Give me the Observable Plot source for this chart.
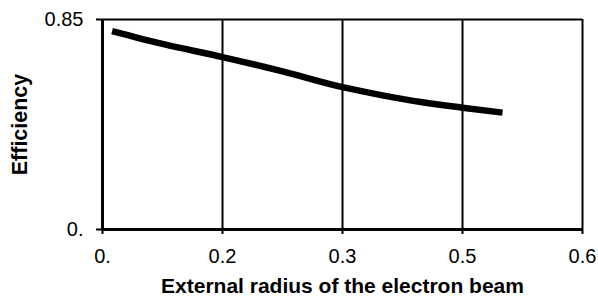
<!DOCTYPE html>
<html>
<head>
<meta charset="utf-8">
<script src="https://cdn.jsdelivr.net/npm/d3@7"></script>
<script src="https://cdn.jsdelivr.net/npm/@observablehq/plot@0.6"></script>
<style>
  html, body { margin: 0; padding: 0; background: #fff; }
</style>
</head>
<body>
<div id="chart"></div>
<script>
const xTicks = [0, 0.15, 0.3, 0.45, 0.6];
const xTickLabels = ["0.", "0.2", "0.3", "0.5", "0.6"];
const yTicks = [0, 0.85];
const yTickLabels = ["0.", "0.85"];
const radius = [0.012, 0.075, 0.15, 0.225, 0.30, 0.35, 0.40, 0.45, 0.50];
const efficiency = [0.803, 0.751, 0.698, 0.640, 0.576, 0.543, 0.515, 0.493, 0.473];
const xLabel = "External radius of the electron beam";
const yLabel = "Efficiency";

const data = radius.map((r, i) => ({r, e: efficiency[i]}));

const chart = Plot.plot({
  width: 598,
  height: 296,
  marginLeft: 102,
  marginRight: 16,
  marginTop: 19,
  marginBottom: 67,
  style: {fontFamily: "'Liberation Sans', Arial, sans-serif", fontSize: "20px", color: "#000", background: "#fff"},
  x: {domain: [0, 0.6]},
  y: {domain: [0, 0.85]},
  marks: [
    Plot.gridX(xTicks, {stroke: "#000", strokeOpacity: 1, strokeWidth: 2}),
    Plot.ruleY([0.85], {stroke: "#000", strokeWidth: 2}),
    Plot.line(data, {x: "r", y: "e", stroke: "#000", strokeWidth: 6.5, strokeLinecap: "butt", curve: "monotone-x"}),
    Plot.ruleX([0], {stroke: "#000", strokeWidth: 3}),
    Plot.ruleY([0], {stroke: "#000", strokeWidth: 3}),
    Plot.axisX(xTicks, {tickFormat: d => xTickLabels[xTicks.indexOf(d)], tickSize: 5, tickPadding: 14, strokeWidth: 2, fontSize: 20, label: null}),
    Plot.axisY(yTicks, {tickFormat: d => yTickLabels[yTicks.indexOf(d)], tickSize: 6, tickPadding: 13, strokeWidth: 2, fontSize: 20, label: null}),
    Plot.text([xLabel], {frameAnchor: "bottom", dy: 57, textAnchor: "middle", lineAnchor: "middle", fontWeight: "bold", fontSize: 21}),
    Plot.text([yLabel], {frameAnchor: "left", dx: -82, textAnchor: "middle", lineAnchor: "middle", rotate: -90, fontWeight: "bold", fontSize: 21.5})
  ]
});
document.getElementById("chart").appendChild(chart);
</script>
</body>
</html>
